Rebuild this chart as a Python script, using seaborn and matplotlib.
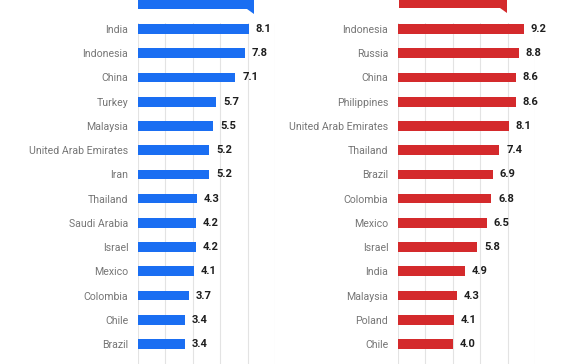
import pandas as pd
import seaborn as sns
import matplotlib.pyplot as plt
from matplotlib.patches import Polygon

# Left panel (blue)
left_countries = ['India', 'Indonesia', 'China', 'Turkey', 'Malaysia',
                  'United Arab Emirates', 'Iran', 'Thailand', 'Saudi Arabia',
                  'Israel', 'Mexico', 'Colombia', 'Chile', 'Brazil']
left_values = [8.1, 7.8, 7.1, 5.7, 5.5, 5.2, 5.2, 4.3, 4.2, 4.2, 4.1, 3.7, 3.4, 3.4]

# Right panel (red)
right_countries = ['Indonesia', 'Russia', 'China', 'Philippines',
                   'United Arab Emirates', 'Thailand', 'Brazil', 'Colombia',
                   'Mexico', 'Israel', 'India', 'Malaysia', 'Poland', 'Chile']
right_values = [9.2, 8.8, 8.6, 8.6, 8.1, 7.4, 6.9, 6.8, 6.5, 5.8, 4.9, 4.3, 4.1, 4.0]

BLUE = '#1a6ef2'
RED = '#d42a2c'

sns.set_theme(style='white')
plt.rcParams['font.family'] = ['Roboto', 'DejaVu Sans']

W, H = 572, 364
fig = plt.figure(figsize=(W / 100, H / 100), dpi=100)

# axes placement in pixels: x0 (value 0), x10 (value 10), top, bottom
row0, step = 29, 24.23
top_px, bot_px = 23, 364


def make_panel(x0, x10, countries, values, color):
    ax = fig.add_axes([x0 / W, 1 - bot_px / H, (x10 - x0) / W, (bot_px - top_px) / H])
    df = pd.DataFrame({'country': countries, 'value': values})
    sns.barplot(data=df, x='value', y='country', color=color, width=0.4,
                saturation=1, linewidth=0, ax=ax)
    ax.set_xlim(0, 10)
    ax.set_ylim((bot_px - row0) / step, (top_px - row0) / step)
    ax.set_xticks([0, 2, 4, 6, 8, 10])
    ax.set_xticklabels([])
    ax.xaxis.grid(True, color='#e3e3e3', linewidth=0.8)
    ax.set_axisbelow(True)
    ax.tick_params(axis='both', length=0, pad=7)
    ax.tick_params(axis='y', labelsize=7.6, labelcolor='#767676')
    ax.set_xlabel('')
    ax.set_ylabel('')
    for s in ax.spines.values():
        s.set_visible(False)
    for c in ax.containers:
        labels = ax.bar_label(c, fmt='%.1f', padding=5, fontsize=8,
                              fontweight='bold', color='#1e1e1e')
        for t in labels:
            t.set_clip_on(False)
    return ax


make_panel(138, 275, left_countries, left_values, BLUE)
make_panel(398, 535, right_countries, right_values, RED)


def header_box(x_left, x_right, bottom, tail_y, color):
    # speech-bubble header cut off at the top of the image
    pts = [(x_left, -2), (x_right + 2, -2), (x_right + 2, tail_y),
           (x_right - 5, bottom), (x_left, bottom)]
    pts = [(x / W, 1 - y / H) for x, y in pts]
    fig.patches.append(Polygon(pts, closed=True, transform=fig.transFigure,
                               facecolor=color, edgecolor='none'))


header_box(138, 252, 9, 14, BLUE)
header_box(399, 505, 8, 13, RED)

fig.savefig('out.png', dpi=100, facecolor='white')
